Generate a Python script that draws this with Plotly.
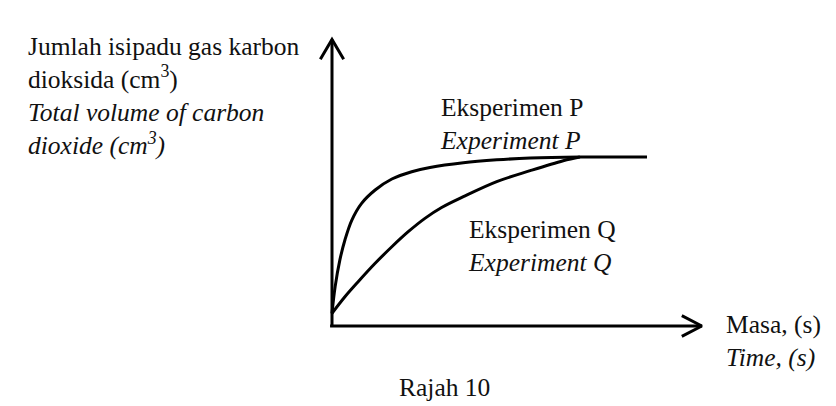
import plotly.graph_objects as go

W, H = 836, 406

# curves (time and volume in arbitrary units, plateau = 100)
time_p = [0, 1.0, 2.5, 4.1, 6.3, 9.4, 13.7, 19.0, 25.3, 31.1, 41.7, 52.3, 62.9, 78.7, 100]
volume_p = [7.5, 23.3, 39.1, 50.9, 62.7, 72.6, 80.5, 87.0, 91.3, 93.8, 96.6, 98.3, 99.4, 100, 100]

time_q = [0, 4.1, 8.3, 13.7, 19.0, 24.2, 29.5, 34.8, 41.7, 52.3, 62.9, 73.4, 78.7]
volume_q = [7.5, 17.3, 26.2, 37.1, 46.9, 55.8, 63.7, 70.1, 76.5, 85.4, 91.9, 97.8, 100]

# how far the drawn axes go
t_end = 117.4
v_end = 169.6

y_label = ["Jumlah isipadu gas karbon", "dioksida (cm<sup>3</sup>)",
           "<i>Total volume of carbon</i>", "<i>dioxide (cm<sup>3</sup>)</i>"]
x_label = ["Masa, (s)", "<i>Time, (s)</i>"]
label_p = ["Eksperimen P", "<i>Experiment P</i>"]
label_q = ["Eksperimen Q", "<i>Experiment Q</i>"]
caption = "Rajah 10"

FONT = "Liberation Serif"
INK = "#111111"
LW = 3

fig = go.Figure()

line_style = dict(color="black", width=LW)

# axes with open chevron heads
head_t, head_v = 3.7, 11.8
fig.add_trace(go.Scatter(x=[0, 0], y=[-0.6, v_end], mode="lines", line=line_style))
fig.add_trace(go.Scatter(x=[-head_t, 0, head_t], y=[v_end - head_v, v_end, v_end - head_v],
                         mode="lines", line=line_style))
head_t2, head_v2 = 6.35, 6.1
fig.add_trace(go.Scatter(x=[-0.6, t_end], y=[0, 0], mode="lines", line=line_style))
fig.add_trace(go.Scatter(x=[t_end - head_t2, t_end, t_end - head_t2], y=[head_v2, 0, -head_v2],
                         mode="lines", line=line_style))

# experiment curves
fig.add_trace(go.Scatter(x=time_p, y=volume_p, mode="lines",
                         line=dict(color="black", width=LW, shape="spline", smoothing=1.0)))
fig.add_trace(go.Scatter(x=time_q, y=volume_q, mode="lines",
                         line=dict(color="black", width=LW, shape="spline", smoothing=1.0)))


def px(x):
    return x / W


def py(y):
    return 1 - y / H


def label(lines, x, y, xanchor="left", align="left"):
    fig.add_annotation(text="<br>".join(lines), xref="paper", yref="paper",
                       x=px(x), y=py(y), xanchor=xanchor, yanchor="top",
                       align=align, showarrow=False,
                       font=dict(family=FONT, size=25.5, color=INK))


label(y_label, 26, 30)
label(label_p, 438, 91)
label(label_q, 466, 213)
label(x_label, 724, 308)
label([caption], 444, 371, xanchor="center", align="center")

fig.update_layout(
    width=W, height=H,
    margin=dict(l=0, r=0, t=0, b=0),
    paper_bgcolor="white", plot_bgcolor="white",
    showlegend=False,
    xaxis=dict(range=[-332 / 3.15, (W - 332) / 3.15], visible=False, fixedrange=True),
    yaxis=dict(range=[(326 - H) / 1.69, 326 / 1.69], visible=False, fixedrange=True),
)

fig.write_html("out.html", config={"displayModeBar": False},
               post_script="document.body.style.margin='0';")
